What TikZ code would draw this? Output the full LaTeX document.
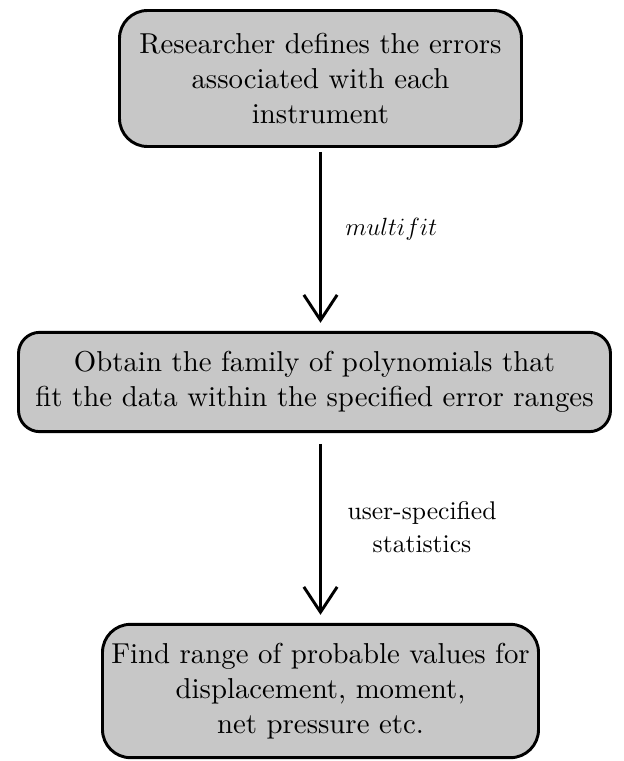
\documentclass[tikz,border=0pt]{standalone}
\usepackage{tikz}
\usetikzlibrary{arrows.meta}
\usepackage{amsmath}
\usepackage{fontspec}
\setmainfont{lmroman10-regular.otf}[BoldFont=lmroman10-bold.otf, ItalicFont=lmroman10-italic.otf]

\tikzset{
  stepbox/.style={draw, line width=2.2pt, fill=black!22, rounded corners=21pt, align=center, inner sep=0pt, font=\fontsize{21.6}{26.3}\selectfont},
  flowarrow/.style={line width=2.2pt, -{Straight Barb[length=19pt,width=25pt,line width=2.2pt]}},
  edgelabel/.style={align=center, inner sep=0pt, font=\fontsize{19.2}{24.75}\selectfont}
}

\begin{document}
\begin{tikzpicture}[x=0.75pt,y=0.75pt,yscale=-1,xscale=1]
\useasboundingbox (0,0) rectangle (624,761);

% Text Node
\node [stepbox, minimum width=301.5pt, minimum height=102pt] (res) at (320.5,78.5) {Researcher defines the errors\\associated with each\\instrument};
% Text Node
\node [stepbox, rounded corners=16pt, minimum width=444pt, minimum height=74.5pt] (obt) at (314.5,382) {Obtain the family of polynomials that\\fit the data within the specified error ranges};
% Text Node
\node [stepbox, minimum width=327pt, minimum height=100pt] (fin) at (320.5,691) {Find range of probable values for\\displacement, moment,\\net pressure etc.};

%Straight Lines
\draw [flowarrow, shorten <=3pt, shorten >=6pt] (res.south) -- (res.south |- obt.north);
%Straight Lines
\draw [flowarrow, shorten <=8pt, shorten >=6pt] (fin.north |- obt.south) -- (fin.north);

% Text Node
\node [edgelabel, font=\fontsize{18.4}{24}\selectfont, anchor=west] (mf) at (345,229) {\scalebox{1.08}{$multifit$}};
% Text Node
\node [edgelabel] (stat) at (422,527) {user-specified\\statistics};

\end{tikzpicture}
\end{document}
